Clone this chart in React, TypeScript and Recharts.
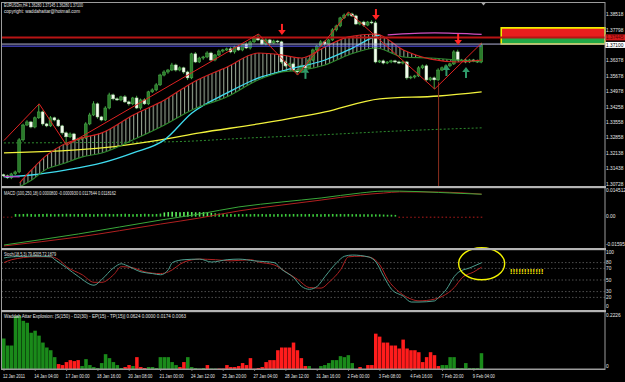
import React from 'react';
import {
  ComposedChart, Line, Bar, Area, XAxis, YAxis, Scatter,
  ReferenceLine, ReferenceArea, ReferenceDot, Cell,
} from 'recharts';

// ---------------- DATA ----------------
const firstOpen = 1.3115;
const closes = [
  1.3110, 1.3101, 1.3119, 1.3128, 1.3275, 1.3343, 1.3357, 1.3334, 1.3376, 1.3403,
  1.3348, 1.3339, 1.3376, 1.3366, 1.3339, 1.3307, 1.3289, 1.3302, 1.3275, 1.3279,
  1.3284, 1.3348, 1.3389, 1.3440, 1.3380, 1.3366, 1.3421, 1.3481, 1.3463, 1.3458,
  1.3472, 1.3449, 1.3440, 1.3467, 1.3421, 1.3458, 1.3440, 1.3495, 1.3504, 1.3527,
  1.3572, 1.3586, 1.3595, 1.3618, 1.3595, 1.3605, 1.3586, 1.3559, 1.3669, 1.3632,
  1.3650, 1.3655, 1.3673, 1.3641, 1.3664, 1.3682, 1.3687, 1.3692, 1.3678, 1.3701,
  1.3687, 1.3714, 1.3696, 1.3724, 1.3742, 1.3733, 1.3714, 1.3733, 1.3719, 1.3728,
  1.3724, 1.3632, 1.3614, 1.3623, 1.3595, 1.3586, 1.3614, 1.3605, 1.3641, 1.3687,
  1.3705, 1.3724, 1.3714, 1.3733, 1.3779, 1.3797, 1.3834, 1.3847, 1.3852, 1.3843,
  1.3806, 1.3815, 1.3801, 1.3815, 1.3811, 1.3632, 1.3637, 1.3627, 1.3632, 1.3637,
  1.3632, 1.3627, 1.3632, 1.3559, 1.3563, 1.3568, 1.3605, 1.3614, 1.3550, 1.3559,
  1.3550, 1.3595, 1.3605, 1.3614, 1.3623, 1.3678, 1.3641, 1.3641, 1.3632, 1.3641,
  1.3637, 1.3632, 1.3710,
];
// wicks in pips
const upperWick = [
  5, 6, 5, 6, 8, 6, 8, 5, 6, 37,
  6, 5, 8, 5, 6, 5, 6, 7, 5, 6,
  5, 8, 10, 12, 6, 5, 8, 10, 6, 7,
  5, 8, 6, 5, 10, 6, 8, 5, 7, 8,
  6, 8, 5, 10, 6, 7, 5, 6, 5, 8,
  6, 5, 8, 6, 5, 7, 5, 6, 8, 5,
  6, 5, 8, 6, 8, 18, 6, 8, 5, 6,
  5, 5, 6, 5, 7, 5, 6, 5, 8, 6,
  5, 8, 6, 5, 8, 6, 5, 7, 9, 6,
  6, 5, 6, 5, 8, 9, 5, 6, 4, 5,
  5, 6, 5, 5, 6, 5, 8, 6, 7, 5,
  6, 8, 6, 7, 5, 8, 10, 5, 6, 5,
  5, 6, 9,
];
const lowerWick = [
  6, 5, 6, 5, 6, 8, 5, 6, 6, 5,
  8, 6, 5, 6, 5, 8, 39, 6, 8, 5,
  6, 5, 6, 5, 8, 6, 5, 6, 7, 5,
  6, 5, 8, 6, 5, 8, 5, 6, 5, 6,
  5, 6, 8, 5, 7, 6, 8, 10, 6, 5,
  5, 8, 6, 5, 6, 5, 7, 5, 6, 8,
  5, 6, 5, 7, 5, 6, 5, 6, 8, 5,
  6, 8, 6, 5, 7, 14, 5, 6, 5, 6,
  6, 5, 8, 6, 5, 7, 6, 5, 6, 5,
  5, 6, 8, 5, 6, 6, 5, 6, 5, 6,
  6, 5, 6, 8, 6, 7, 5, 6, 8, 6,
  42, 6, 5, 7, 6, 5, 6, 5, 6, 5,
  6, 5, 6,
];

// zigzag pivots
const zzIdx = [0, 9, 16, 65, 75, 88, 110, 122];
const zzVal = [1.3272, 1.3440, 1.3250, 1.3760, 1.3572, 1.3861, 1.3508, 1.3719];

// band (red top / green bottom)
const bandIdx = [4, 7, 11, 15, 20, 25, 33, 41, 48, 57, 65, 71, 76, 82, 88, 95, 102, 109, 116, 122];
const bandTop = [1.3078, 1.3137, 1.3206, 1.3252, 1.3284, 1.3307, 1.3389, 1.3458, 1.3536, 1.3609,
  1.3673, 1.3664, 1.3650, 1.3701, 1.3747, 1.3760, 1.3687, 1.3645, 1.3632, 1.3641];
const bandBottom = [1.3060, 1.3090, 1.3142, 1.3165, 1.3197, 1.3215, 1.3275, 1.3343, 1.3412, 1.3472,
  1.3550, 1.3586, 1.3595, 1.3618, 1.3664, 1.3696, 1.3655, 1.3650, 1.3641, 1.3632];

const cyanIdx = [0, 7, 16, 25, 33, 41, 48, 57, 65, 72, 82, 88, 94, 96];
const cyanVal = [1.3105, 1.3114, 1.3137, 1.3169, 1.3215, 1.3275, 1.3398, 1.3490, 1.3559, 1.3595,
  1.3641, 1.3687, 1.3742, 1.3756];

const yellowIdx = [0, 25, 40, 50, 65, 82, 96, 111, 122];
const yellowVal = [1.3215, 1.3238, 1.3275, 1.3307, 1.3348, 1.3403, 1.3463, 1.3476, 1.3495];

const dotIdx = [0, 42, 63, 81, 101, 122];
const dotVal = [1.3261, 1.3266, 1.3284, 1.3298, 1.3316, 1.3330];

const pinkIdx = [98, 110, 122];
const pinkVal = [1.3756, 1.3765, 1.3758];
const purpleIdx = [0, 4];
const purpleVal = [1.3107, 1.3105];

const downArrows = [{ i: 71, p: 1.3756 }, { i: 95, p: 1.3824 }, { i: 116, p: 1.3710 }];
const upArrows = [{ i: 77, p: 1.3605 }, { i: 113, p: 1.3618 }, { i: 118, p: 1.3609 }];

const resistance = 1.37445;
const bid = 1.37100;
const greyLine = 1.3714;
const blueLine = 1.37045;
const boxTop = 1.3788;

// MACD
const macdHist = [
  -5, -5, -5, 14, 13, 14, 15, 14, 13, 14,
  14, 15, 14, 13, 14, 14, 15, 14, 13, 14,
  14, 15, 14, 13, 14, 14, 15, 14, 13, 14,
  14, 15, 14, 13, 14, 14, 15, 14, 13, 14,
  16, 22, 24, 25, 24, 23, 24, 25, 24, 23,
  24, 24, 22, 20, 18, 16, 14, 13, 14, 13,
  14, 13, 14, 13, 14, 13, 14, 13, 14, 13,
  14, 13, 14, 13, 14, 13, 14, 13, 14, 13,
  14, 13, 14, 13, 14, 13, 14, 13, 14, 13,
  13, 12, 13, 12, 13, 12, 12, 11, 10, 10,
  9, -6, -6, -6, -6, -6, -6, -6, -6, -6,
  -6, -6, -6, -6, -6, -6, -6, -6, -6, -6,
  -6, -6, -6,
];
const macdIdx = [0, 19, 40, 50, 60, 71, 81, 91, 97, 101, 111, 122];
const macdMain = [-0.0149, -0.0091, -0.0018, 0.0014, 0.0051, 0.0077, 0.0098, 0.0124, 0.0134, 0.0134, 0.0127, 0.01176];
const macdSignal = [-0.0154, -0.0107, -0.0039, -0.0007, 0.0030, 0.0061, 0.0087, 0.0114, 0.0124, 0.0130, 0.0129, 0.01182];

// Stochastic
const kIdx = [0, 2, 8, 12, 13, 16, 19, 23, 25, 28, 30, 31, 35, 38, 40, 42, 43, 46, 50, 53, 57, 60, 64, 69, 71, 74, 76, 78, 80, 82, 85, 87, 89, 93, 95, 97, 99, 102, 104, 106, 110, 111, 113, 115, 116, 119, 122];
const kVal = [88, 90, 91, 90, 85, 71, 56, 41, 51, 71, 78, 76, 64, 61, 59, 68, 80, 85, 86, 81, 85, 86, 83, 80, 68, 54, 39, 34, 39, 56, 80, 91, 93, 90, 81, 56, 34, 22, 12, 12, 14, 20, 34, 56, 63, 71, 79.82];
const dIdx = [0, 2, 8, 12, 14, 16, 20, 23, 25, 28, 30, 33, 36, 40, 42, 46, 50, 54, 58, 63, 65, 69, 72, 75, 78, 81, 83, 86, 88, 91, 93, 96, 98, 101, 104, 106, 110, 112, 115, 117, 120, 122];
const dVal = [80, 85, 90, 90, 85, 73, 59, 46, 46, 59, 73, 71, 64, 61, 64, 81, 86, 85, 83, 85, 81, 76, 64, 51, 37, 36, 46, 68, 90, 91, 90, 76, 51, 29, 17, 14, 17, 22, 37, 54, 64, 72.19];
const stochLevels = [80, 70, 50, 30, 20];

// Waddah Attar Explosion (positive = up/green, negative = down/red)
const wae = [
  0.123, 0.095, 0.095, 0.215, 0.215, 0.195, 0.187, 0.147, 0.155, 0.135,
  0.107, 0.087, 0.076, 0.048, -0.020, -0.016, -0.028, -0.036, -0.032, -0.036,
  0.012, 0.040, 0.016, 0.008, 0.004, 0.024, 0.060, 0.044, 0.028, 0.016,
  0.004, -0.008, -0.016, 0.012, -0.048, -0.008, -0.004, 0.008, 0.008, 0.004,
  0.048, 0.048, 0.048, 0.028, 0.016, -0.008, -0.028, 0.048, 0.008, 0.004,
  0.002, 0.004, -0.016, 0.002, 0.002, -0.002, -0.002, -0.016, -0.008, -0.008,
  -0.012, -0.024, -0.016, -0.044, -0.001, -0.004, -0.008, -0.028, -0.036, -0.036,
  -0.076, -0.087, -0.087, -0.087, -0.107, -0.076, -0.044, -0.012, 0.012, 0,
  0, 0.012, 0.016, 0.024, 0.036, 0.036, 0.052, 0.048, 0.056, 0.024,
  0, -0.008, 0, -0.016, -0.016, -0.143, -0.131, -0.107, -0.107, -0.095,
  -0.095, -0.083, -0.119, -0.083, -0.076, -0.076, -0.068, -0.028, -0.048, -0.068,
  -0.056, -0.012, 0.016, 0.016, 0.048, 0.048, 0.004, 0.004, 0.024, 0.004,
  0.004, 0.004, 0.064,
];

const timeLabels = ['12 Jan 2011', '14 Jan 04:00', '17 Jan 00:00', '18 Jan 16:00', '20 Jan 08:00',
  '21 Jan 00:00', '24 Jan 12:00', '25 Jan 20:00', '27 Jan 04:00', '28 Jan 12:00', '31 Jan 16:00',
  '2 Feb 00:00', '3 Feb 08:00', '4 Feb 16:00', '7 Feb 20:00', '9 Feb 04:00'];
const timeTickIdx = timeLabels.map((_, k) => k * 8);

const priceTicks = [1.38518, 1.37798, 1.37445, 1.37100, 1.36378, 1.35678, 1.34978, 1.34258,
  1.33558, 1.32858, 1.32138, 1.31438, 1.30728];

// ---------------- TABLE ----------------
const table: any[] = closes.map((c, i) => {
  const o = i === 0 ? firstOpen : closes[i - 1];
  const hi = Math.max(o, c) + upperWick[i] / 10000;
  const lo = Math.min(o, c) - lowerWick[i] / 10000;
  return {
    i, o, c, hi, lo, hl: [lo, hi],
    mh: macdHist[i] / 10000,
    wae: Math.abs(wae[i]), waeUp: wae[i] >= 0,
  };
});
const put = (key: string, idx: number[], vals: number[]) =>
  idx.forEach((ix, k) => { table[ix][key] = vals[k]; });
put('zz', zzIdx, zzVal);
put('rTop', bandIdx, bandTop);
put('gBot', bandIdx, bandBottom);
bandIdx.forEach((ix, k) => { table[ix].band = [bandBottom[k], bandTop[k]]; });
put('cyan', cyanIdx, cyanVal);
put('yellow', yellowIdx, yellowVal);
put('dotg', dotIdx, dotVal);
put('pink', pinkIdx, pinkVal);
put('purple', purpleIdx, purpleVal);
put('macd', macdIdx, macdMain);
put('sig', macdIdx, macdSignal);
put('k', kIdx, kVal);
put('d', dIdx, dVal);

// ---------------- LAYOUT / STYLE ----------------
const W = 625;
const XDOM: [number, number] = [-0.5, 153.5];
const SLOT = 603 / 154;
const FONT = '"Liberation Sans", Arial, sans-serif';
const AX = 20;
const TXT = '#e6e6e6';

const Candle = (props: any) => {
  const { x, y, width, height, payload } = props;
  if (!payload || x == null || y == null) return null;
  const top0 = Math.min(y, y + height);
  const h = Math.abs(height);
  const { o, c, hi, lo } = payload;
  const px = (p: number) => top0 + ((hi - p) / (hi - lo)) * h;
  const cx = x + width / 2;
  const bull = c >= o;
  const bt = px(Math.max(o, c));
  const bb = px(Math.min(o, c));
  return (
    <g>
      <line x1={cx} x2={cx} y1={top0} y2={top0 + h} stroke="#44a844" strokeWidth={1} />
      <rect x={cx - 1.4} y={bt} width={2.8} height={Math.max(0.8, bb - bt)}
        fill={bull ? '#2a7a2a' : '#f4fbef'} stroke={bull ? '#4fb44f' : '#b4deae'} strokeWidth={0.5} />
    </g>
  );
};

const DownArrow = (props: any) => {
  const { cx, cy } = props;
  if (cx == null || cy == null) return null;
  return (
    <g fill="#ff2424">
      <rect x={cx - 1} y={cy - 11} width={2} height={6.5} />
      <polygon points={`${cx - 3.8},${cy - 5} ${cx + 3.8},${cy - 5} ${cx},${cy}`} />
    </g>
  );
};
const UpArrow = (props: any) => {
  const { cx, cy } = props;
  if (cx == null || cy == null) return null;
  return (
    <g fill="#2f9a6a">
      <rect x={cx - 1} y={cy + 4.5} width={2} height={6.5} />
      <polygon points={`${cx - 3.8},${cy + 5} ${cx + 3.8},${cy + 5} ${cx},${cy}`} />
    </g>
  );
};

const PriceTick = (props: any) => {
  const { x, y, payload } = props;
  const v = payload.value;
  const s = v.toFixed(5);
  if (v === bid) {
    return (<g>
      <rect x={x} y={y - 3} width={20} height={6} fill="#ffffff" />
      <text x={x + 1} y={y + 1.8} fontSize={4.8} fontFamily={FONT} fill="#000">{s}</text>
    </g>);
  }
  if (v === resistance) {
    return (<g>
      <rect x={x} y={y - 3} width={20} height={6} fill="#d41a1a" />
      <text x={x + 1} y={y + 1.8} fontSize={4.8} fontFamily={FONT} fill="#5a0000">{s}</text>
    </g>);
  }
  return <text x={x + 1} y={y + 1.8} fontSize={4.8} fontFamily={FONT} fill={TXT}>{s}</text>;
};

const makeTick = (fmt: (v: number) => string, lo: number, hi: number) => (props: any) => {
  const { x, y, payload } = props;
  const v = payload.value;
  const dy = v === lo ? -0.6 : v === hi ? 2.8 : 1.8;
  return <text x={x + 1} y={y + dy} fontSize={4.8} fontFamily={FONT} fill={TXT}>{fmt(v)}</text>;
};
const macdFmt = (v: number) => (v === 0 ? '0.00' : v > 0 ? '0.014512' : '-0.01595');
const stochFmt = (v: number) => String(v);
const waeFmt = (v: number) => (v === 0 ? '0' : '0.2226');

const TimeTick = (props: any) => {
  const { x, y, payload } = props;
  const lbl = timeLabels[Math.round(payload.value / 8)];
  if (!lbl) return null;
  return (
    <g>
      <line x1={x} x2={x} y1={y} y2={y + 2} stroke="#bbb" strokeWidth={0.6} />
      <text x={x - 1} y={y + 8.5} fontSize={5} fontFamily={FONT} fill={TXT}
        textLength={lbl.length * 2.0} lengthAdjust="spacingAndGlyphs">{lbl}</text>
    </g>
  );
};

const EllipseMark = (props: any) => {
  const { cx, cy } = props;
  if (cx == null || cy == null) return null;
  return (
    <g>
      <ellipse cx={cx} cy={cy} rx={23} ry={16} fill="none" stroke="#f4f400" strokeWidth={1.4} />
      <text x={cx + 28} y={cy + 10} fontSize={7} fontWeight="bold" fontFamily={FONT} fill="#f4e000"
        textLength={34} lengthAdjust="spacingAndGlyphs">!!!!!!!!!!!!</text>
    </g>
  );
};

const xAxisHidden = <XAxis dataKey="i" type="number" domain={XDOM} hide allowDataOverflow />;

function MainChart() {
  return (
    <ComposedChart width={W} height={187} data={table} margin={{ top: 3, right: 0, bottom: 1, left: 2 }}>
      {xAxisHidden}
      <YAxis orientation="right" width={AX} domain={[1.30635, 1.39022]} allowDataOverflow
        ticks={priceTicks} interval={0} tick={PriceTick} axisLine={false} tickLine={false} tickSize={0} tickMargin={0} />
      <Area dataKey="band" type="monotone" connectNulls fill="url(#hatch)" fillOpacity={1} stroke="none" isAnimationActive={false} />
      <Line dataKey="dotg" type="monotone" connectNulls stroke="#2e8b2e" strokeWidth={1} strokeDasharray="2 2" dot={false} isAnimationActive={false} />
      <Line dataKey="yellow" type="monotone" connectNulls stroke="#f2f23c" strokeWidth={1.3} dot={false} isAnimationActive={false} />
      <Line dataKey="cyan" type="monotone" connectNulls stroke="#3fdcef" strokeWidth={1.3} dot={false} isAnimationActive={false} />
      <Line dataKey="gBot" type="monotone" connectNulls stroke="#2e8b2e" strokeWidth={1.1} dot={false} isAnimationActive={false} />
      <Line dataKey="rTop" type="monotone" connectNulls stroke="#d42020" strokeWidth={1.1} dot={false} isAnimationActive={false} />
      <Line dataKey="purple" type="linear" connectNulls stroke="#c040c8" strokeWidth={1.2} dot={false} isAnimationActive={false} />
      <ReferenceLine y={greyLine} stroke="#b4b4d8" strokeWidth={1} />
      <ReferenceLine segment={[{ x: -0.5, y: blueLine }, { x: 122, y: blueLine }]} stroke="#5a5aff" strokeWidth={1} />
      <ReferenceLine y={resistance} stroke="#b81414" strokeWidth={2} />
      <Line dataKey="pink" type="monotone" connectNulls stroke="#d050c0" strokeWidth={1.2} dot={false} isAnimationActive={false} />
      <ReferenceLine segment={[{ x: 111, y: 1.3540 }, { x: 111, y: 1.30635 }]} stroke="#8b2e1e" strokeWidth={1} />
      <Bar dataKey="hl" barSize={3} shape={Candle} isAnimationActive={false} />
      <Line dataKey="zz" type="linear" connectNulls stroke="#e02222" strokeWidth={1} dot={false} isAnimationActive={false} />
      <Scatter data={downArrows} dataKey="p" shape={DownArrow} isAnimationActive={false} />
      <Scatter data={upArrows} dataKey="p" shape={UpArrow} isAnimationActive={false} />
      <ReferenceArea x1={127} x2={153.5} y1={resistance} y2={boxTop} fill="#e81e1e" fillOpacity={1} stroke="none" ifOverflow="visible" />
      <ReferenceArea x1={127} x2={153.5} y1={greyLine} y2={resistance} fill="#22a846" fillOpacity={1} stroke="none" ifOverflow="visible" />
      <ReferenceArea x1={127} x2={153.5} y1={greyLine} y2={boxTop} fill="none" stroke="#f0f000" strokeWidth={1.6} ifOverflow="visible" />
    </ComposedChart>
  );
}

function MacdChart() {
  return (
    <ComposedChart width={W} height={62} data={table} margin={{ top: 2, right: 0, bottom: 2, left: 2 }}>
      {xAxisHidden}
      <YAxis orientation="right" width={AX} domain={[-0.01595, 0.014512]} allowDataOverflow
        ticks={[0.014512, 0, -0.01595]} interval={0} tick={makeTick(macdFmt, -0.01595, 0.014512)} axisLine={false} tickLine={false} tickSize={0} tickMargin={0} />
      <Bar dataKey="mh" barSize={1.6} isAnimationActive={false}>
        {table.map((r, i) => (
          <Cell key={i} fill={r.mh >= 0 ? (r.mh > 0.0018 ? '#5cf05c' : '#3ccc3c') : '#a01818'} />
        ))}
      </Bar>
      <Line dataKey="sig" type="monotone" connectNulls stroke="#b02020" strokeWidth={1} dot={false} isAnimationActive={false} />
      <Line dataKey="macd" type="monotone" connectNulls stroke="#3aa83a" strokeWidth={1} dot={false} isAnimationActive={false} />
    </ComposedChart>
  );
}

function StochChart() {
  return (
    <ComposedChart width={W} height={61} data={table} margin={{ top: 2, right: 0, bottom: 1, left: 2 }}>
      {xAxisHidden}
      <YAxis orientation="right" width={AX} domain={[0, 100]} allowDataOverflow
        ticks={[100, 80, 70, 50, 30, 20, 0]} interval={0} tick={makeTick(stochFmt, 0, 100)} axisLine={false} tickLine={false} tickSize={0} tickMargin={0} />
      {stochLevels.map((lv) => (
        <ReferenceLine key={lv} y={lv} stroke="#707070" strokeWidth={0.7} strokeDasharray="1.5 2" />
      ))}
      <Line dataKey="d" type="monotone" connectNulls stroke="#b02222" strokeWidth={1} dot={false} isAnimationActive={false} />
      <Line dataKey="k" type="monotone" connectNulls stroke="#4e9e8e" strokeWidth={1} dot={false} isAnimationActive={false} />
      <ReferenceDot x={122} y={78} r={1} shape={EllipseMark} ifOverflow="visible" />
    </ComposedChart>
  );
}

function WaeChart() {
  return (
    <ComposedChart width={W} height={72} data={table} margin={{ top: 4, right: 0, bottom: 0, left: 2 }} barCategoryGap={0}>
      <XAxis dataKey="i" type="number" domain={XDOM} allowDataOverflow ticks={timeTickIdx} interval={0}
        tick={TimeTick} height={13} axisLine={{ stroke: '#9a9a9a' }} tickLine={false} tickSize={0} tickMargin={0} />
      <YAxis orientation="right" width={AX} domain={[0, 0.2226]} allowDataOverflow
        ticks={[0.2226, 0]} interval={0} tick={makeTick(waeFmt, 0, 0.2226)} axisLine={false} tickLine={false} tickSize={0} tickMargin={0} />
      <Bar dataKey="wae" barSize={4} isAnimationActive={false}>
        {table.map((r, i) => (
          <Cell key={i} fill={r.waeUp ? '#1a8a1a' : '#ff1c1c'} />
        ))}
      </Bar>
    </ComposedChart>
  );
}

export default function App() {
  return (
    <div style={{ position: 'fixed', left: 0, top: 0, width: W, height: 382, background: '#000', overflow: 'hidden' }}>
      <style>{`.recharts-surface{overflow:visible}`}</style>
      <svg width={0} height={0} style={{ position: 'absolute' }}>
        <defs>
          <pattern id="hatch" patternUnits="userSpaceOnUse" x={0} y={0} width={SLOT} height={6}>
            <rect x={0.2} y={0} width={0.9} height={6} fill="#d8eed2" fillOpacity={0.85} />
          </pattern>
        </defs>
      </svg>
      <div style={{ position: 'absolute', left: 0, top: 0 }}><MainChart /></div>
      <div style={{ position: 'absolute', left: 0, top: 187 }}><MacdChart /></div>
      <div style={{ position: 'absolute', left: 0, top: 249 }}><StochChart /></div>
      <div style={{ position: 'absolute', left: 0, top: 310 }}><WaeChart /></div>
      <svg width={W} height={382} style={{ position: 'absolute', left: 0, top: 0, pointerEvents: 'none' }}>
        <rect x={1.5} y={2.5} width={603.5} height={367} fill="none" stroke="#9c9c9c" strokeWidth={1} />
        <rect x={1} y={186} width={605} height={2.2} fill="#b4b4b4" />
        <rect x={1} y={248} width={605} height={2.2} fill="#b4b4b4" />
        <rect x={1} y={310} width={605} height={2.2} fill="#b4b4b4" />
        <polygon points="481,2.5 486,2.5 483.5,5.5" fill="#aaa" />
        <g fontFamily={FONT} fill={TXT}>
          <text x={4} y={7} fontSize={5} textLength={79} lengthAdjust="spacingAndGlyphs">EURUSDm,H4  1.36280 1.37145 1.36280 1.37100</text>
          <text x={4} y={13} fontSize={5} textLength={76} lengthAdjust="spacingAndGlyphs">copyright: waddahattar@hotmail.com</text>
          <text x={4} y={194.5} fontSize={5} textLength={112} lengthAdjust="spacingAndGlyphs">MACD (100,250,18) 0.0000800 -0.0000930 0.0117644 0.0118162</text>
          <text x={4} y={256} fontSize={5} textLength={52} lengthAdjust="spacingAndGlyphs">Stoch(18,5,3) 79.8205 72.1879</text>
          <text x={4} y={318} fontSize={5} textLength={182} lengthAdjust="spacingAndGlyphs">Waddah Attar Explosion: [S(150) - D2(30) - EP(15) - TP(15)] 0.0624 0.0000 0.0174 0.0063</text>
        </g>
      </svg>
    </div>
  );
}
